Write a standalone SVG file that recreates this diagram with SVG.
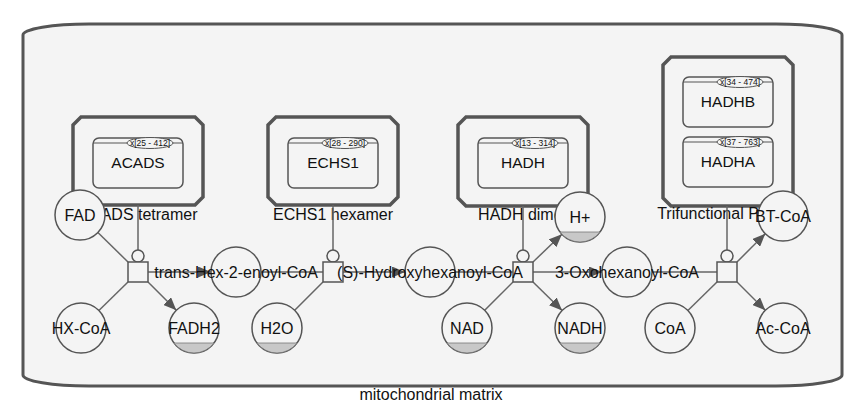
<svg xmlns="http://www.w3.org/2000/svg" width="860" height="416" viewBox="0 0 860 416">
<defs>
<style>
text{font-family:"Liberation Sans",Arial,Helvetica,sans-serif;fill:#111;text-anchor:middle}
.comp{fill:#f4f4f4;stroke:#555;stroke-width:3}
.cplx{fill:#f4f4f4;stroke:#555;stroke-width:3.5}
.mac{fill:#f4f4f4;stroke:#555;stroke-width:1.5}
.uoi{fill:#f4f4f4;stroke:#555;stroke-width:1}
.sm{fill:#f4f4f4;stroke:#555;stroke-width:1.5}
.clone{fill:#c8c8c8;stroke:#777;stroke-width:0.8}
.pr{fill:#f4f4f4;stroke:#555;stroke-width:1.5}
.edge{fill:none;stroke:#666;stroke-width:1.5}
.lbl{font-size:16px}
.mlbl{font-size:15.5px}
.ulbl{font-size:8.5px}
</style>
<marker id="arr" viewBox="0 0 13 11" refX="13" refY="5.5" markerWidth="13" markerHeight="11" markerUnits="userSpaceOnUse" orient="auto">
<path d="M0,0 L13,5.5 L0,11 Z" fill="#555"/>
</marker>
</defs>

<g id="compartment">
<rect class="comp" x="23" y="24" width="819" height="362" rx="66" ry="11"/>
<text class="lbl" x="431" y="400">mitochondrial matrix</text>
</g>

<g id="acads-tetramer">
<path class="cplx" d="M81,117 H195 L203,125 V197 L195,205 H81 L73,197 V125 Z"/>
<text class="lbl" x="138" y="220">ACADS tetramer</text>
<g id="acads">
<rect class="mac" x="93" y="138" width="90" height="50" rx="6"/>
<line x1="93" y1="143" x2="183" y2="143" stroke="#555" stroke-width="1"/>
<ellipse class="uoi" cx="150" cy="143" rx="23" ry="5.5"/>
<text class="ulbl" x="150" y="146">x[25 - 412]</text>
<text class="mlbl" x="138" y="168">ACADS</text>
</g>
</g>

<g id="echs1-hexamer">
<path class="cplx" d="M276,117 H390 L398,125 V197 L390,205 H276 L268,197 V125 Z"/>
<text class="lbl" x="333" y="220">ECHS1 hexamer</text>
<g id="echs1">
<rect class="mac" x="288" y="138" width="90" height="50" rx="6"/>
<line x1="288" y1="143" x2="378" y2="143" stroke="#555" stroke-width="1"/>
<ellipse class="uoi" cx="345" cy="143" rx="23" ry="5.5"/>
<text class="ulbl" x="345" y="146">x[28 - 290]</text>
<text class="mlbl" x="333" y="168">ECHS1</text>
</g>
</g>

<g id="hadh-dimer">
<path class="cplx" d="M466,117 H580 L588,125 V198 L580,206 H466 L458,198 V125 Z"/>
<text class="lbl" x="523" y="220">HADH dimer</text>
<g id="hadh">
<rect class="mac" x="478" y="138" width="90" height="50" rx="6"/>
<line x1="478" y1="143" x2="568" y2="143" stroke="#555" stroke-width="1"/>
<ellipse class="uoi" cx="535" cy="143" rx="23" ry="5.5"/>
<text class="ulbl" x="535" y="146">x[13 - 314]</text>
<text class="mlbl" x="523" y="168">HADH</text>
</g>
</g>

<g id="trifunctional-protein">
<path class="cplx" d="M671,57 H785 L793,65 V198 L785,206 H671 L663,198 V65 Z"/>
<text class="lbl" x="728" y="219">Trifunctional Protein</text>
<g id="hadhb">
<rect class="mac" x="683" y="77" width="90" height="50" rx="6"/>
<line x1="683" y1="82" x2="773" y2="82" stroke="#555" stroke-width="1"/>
<ellipse class="uoi" cx="740" cy="82" rx="23" ry="5.5"/>
<text class="ulbl" x="740" y="85">x[34 - 474]</text>
<text class="mlbl" x="728" y="107">HADHB</text>
</g>
<g id="hadha">
<rect class="mac" x="683" y="137" width="90" height="50" rx="6"/>
<line x1="683" y1="142" x2="773" y2="142" stroke="#555" stroke-width="1"/>
<ellipse class="uoi" cx="740" cy="142" rx="23" ry="5.5"/>
<text class="ulbl" x="740" y="145">x[37 - 763]</text>
<text class="mlbl" x="728" y="167">HADHA</text>
</g>
</g>

<g id="connectors">
<line class="edge" x1="138" y1="205" x2="138" y2="250"/>
<line class="edge" x1="97.9" y1="232.5" x2="128" y2="262"/>
<line class="edge" x1="98.9" y1="310.5" x2="128" y2="282"/>
<line class="edge" x1="148" y1="282" x2="176.3" y2="310.3" marker-end="url(#arr)"/>
<line class="edge" x1="148" y1="272" x2="211" y2="272" marker-end="url(#arr)"/>
<line class="edge" x1="333" y1="205" x2="333" y2="250"/>
<line class="edge" x1="261" y1="272" x2="323" y2="272"/>
<line class="edge" x1="294.7" y1="310.3" x2="323" y2="282"/>
<line class="edge" x1="343" y1="272" x2="405" y2="272" marker-end="url(#arr)"/>
<line class="edge" x1="523" y1="206" x2="523" y2="250"/>
<line class="edge" x1="455" y1="272" x2="513" y2="272"/>
<line class="edge" x1="484.7" y1="310.3" x2="513" y2="282"/>
<line class="edge" x1="533" y1="282" x2="562.1" y2="310.5" marker-end="url(#arr)"/>
<line class="edge" x1="533" y1="262" x2="561.9" y2="234.3" marker-end="url(#arr)"/>
<line class="edge" x1="533" y1="272" x2="602" y2="272" marker-end="url(#arr)"/>
<line class="edge" x1="727" y1="206" x2="727" y2="250"/>
<line class="edge" x1="652" y1="272" x2="717" y2="272"/>
<line class="edge" x1="687.9" y1="310.5" x2="717" y2="282"/>
<line class="edge" x1="737" y1="282" x2="765.3" y2="310.3" marker-end="url(#arr)"/>
<line class="edge" x1="737" y1="262" x2="765.3" y2="233.7" marker-end="url(#arr)"/>
</g>

<g id="process-1"><circle class="pr" cx="138" cy="256" r="6"/><rect class="pr" x="128" y="262" width="20" height="20"/></g>
<g id="process-2"><circle class="pr" cx="333" cy="256" r="6"/><rect class="pr" x="323" y="262" width="20" height="20"/></g>
<g id="process-3"><circle class="pr" cx="523" cy="256" r="6"/><rect class="pr" x="513" y="262" width="20" height="20"/></g>
<g id="process-4"><circle class="pr" cx="727" cy="256" r="6"/><rect class="pr" x="717" y="262" width="20" height="20"/></g>

<g id="fad"><circle class="sm" cx="80" cy="215" r="25"/><text class="lbl" x="80" y="221">FAD</text></g>
<g id="hx-coa"><circle class="sm" cx="81" cy="328" r="25"/><text class="lbl" x="81" y="334">HX-CoA</text></g>
<g id="fadh2"><circle class="sm" cx="194" cy="328" r="25"/><path class="clone" d="M174,343 A25,25 0 0 0 214,343 Z"/><text class="lbl" x="194" y="334">FADH2</text></g>
<g id="trans-hex-2-enoyl-coa"><circle class="sm" cx="236" cy="272" r="25"/><text class="lbl" x="236" y="278">trans-Hex-2-enoyl-CoA</text></g>
<g id="h2o"><circle class="sm" cx="277" cy="328" r="25"/><path class="clone" d="M257,343 A25,25 0 0 0 297,343 Z"/><text class="lbl" x="277" y="334">H2O</text></g>
<g id="s-hydroxyhexanoyl-coa"><circle class="sm" cx="430" cy="272" r="25"/><text class="lbl" x="430" y="278">(S)-Hydroxyhexanoyl-CoA</text></g>
<g id="nad"><circle class="sm" cx="467" cy="328" r="25"/><path class="clone" d="M447,343 A25,25 0 0 0 487,343 Z"/><text class="lbl" x="467" y="334">NAD</text></g>
<g id="nadh"><circle class="sm" cx="580" cy="328" r="25"/><path class="clone" d="M560,343 A25,25 0 0 0 600,343 Z"/><text class="lbl" x="580" y="334">NADH</text></g>
<g id="h-plus"><circle class="sm" cx="580" cy="217" r="25"/><path class="clone" d="M560,232 A25,25 0 0 0 600,232 Z"/><text class="lbl" x="580" y="223">H+</text></g>
<g id="3-oxohexanoyl-coa"><circle class="sm" cx="627" cy="272" r="25"/><text class="lbl" x="627" y="278">3-Oxohexanoyl-CoA</text></g>
<g id="coa"><circle class="sm" cx="670" cy="328" r="25"/><text class="lbl" x="670" y="334">CoA</text></g>
<g id="ac-coa"><circle class="sm" cx="783" cy="328" r="25"/><text class="lbl" x="783" y="334">Ac-CoA</text></g>
<g id="bt-coa"><circle class="sm" cx="783" cy="216" r="25"/><text class="lbl" x="783" y="222">BT-CoA</text></g>
</svg>
